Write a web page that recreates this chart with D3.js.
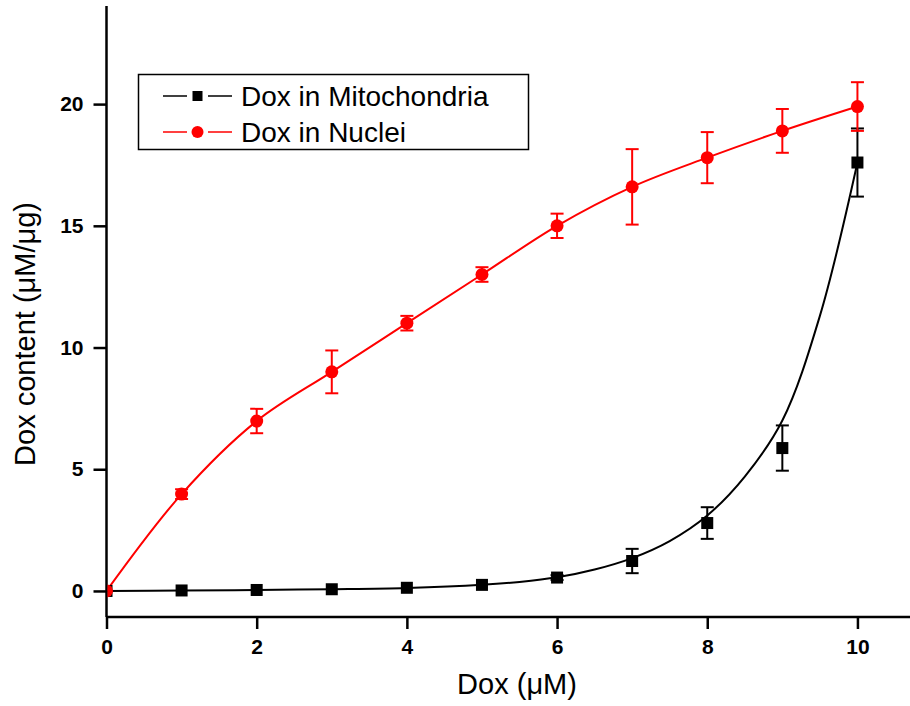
<!DOCTYPE html>
<html>
<head>
<meta charset="utf-8">
<script src="https://cdn.jsdelivr.net/npm/d3@7"></script>
<style>
  body { margin: 0; background: #fff; }
  svg { display: block; }
  text { font-family: "Liberation Sans", Arial, sans-serif; }
</style>
</head>
<body>
<svg id="chart" width="910" height="706"></svg>
<script>
// ---- data ----
const doses = [0, 1, 2, 3, 4, 5, 6, 7, 8, 9, 10];
const mitoValues = [0, 0.02, 0.04, 0.07, 0.13, 0.25, 0.55, 1.23, 2.79, 5.87, 17.6];
const mitoErrors = [0, 0, 0, 0, 0, 0, 0.1, 0.5, 0.65, 0.93, 1.4];
const nucleiValues = [0, 3.98, 6.98, 9.0, 11.0, 13.0, 15.0, 16.6, 17.8, 18.9, 19.9];
const nucleiErrors = [0, 0.2, 0.5, 0.88, 0.3, 0.3, 0.5, 1.55, 1.05, 0.9, 1.0];
// fitted curve for mitochondria
const mitoFitX = [0, 1, 2, 3, 4, 5, 5.5, 6, 6.5, 7, 7.5, 8, 8.5, 9, 9.5, 10];
const mitoFitY = [0, 0.02, 0.04, 0.07, 0.12, 0.25, 0.37, 0.56, 0.88, 1.35, 2.05, 3.1, 4.7, 7.0, 11.3, 17.6];
const xTicks = [0, 2, 4, 6, 8, 10];
const yTicks = [0, 5, 10, 15, 20];
const seriesNames = ["Dox in Mitochondria", "Dox in Nuclei"];
const xTitle = "Dox (\u03BCM)";
const yTitle = "Dox content (\u03BCM/\u03BCg)";

// ---- layout ----
const svg = d3.select("#chart");
const x = d3.scaleLinear().domain([0, 10.7]).range([106.5, 910]);
const y = d3.scaleLinear().domain([-1.07, 24.03]).range([617, 6]);

// axes
const xAxis = svg.append("g").attr("transform", `translate(0,${y(-1.07)})`)
  .call(d3.axisBottom(x).tickValues(xTicks).tickSize(12).tickPadding(10).tickFormat(d3.format("d")));
const yAxis = svg.append("g").attr("transform", `translate(${x(0)},0)`)
  .call(d3.axisLeft(y).tickValues(yTicks).tickSize(13).tickPadding(10).tickFormat(d3.format("d")));
[xAxis, yAxis].forEach(g => {
  g.select(".domain").attr("stroke", "#000").attr("stroke-width", 2.5);
  g.selectAll(".tick line").attr("stroke", "#000").attr("stroke-width", 2.5);
  g.selectAll(".tick text").attr("fill", "#000")
    .style("font-family", "'Liberation Sans', Arial, sans-serif")
    .style("font-size", "21px").style("font-weight", "bold");
});
xAxis.selectAll(".domain").attr("d", `M${x(0)},0H910`);
yAxis.selectAll(".domain").attr("d", `M0,${y(24.03)}V${y(-1.07)}`);

// titles
svg.append("text").attr("x", 517).attr("y", 694).attr("text-anchor", "middle")
  .style("font-size", "29px").text(xTitle);
svg.append("text").attr("transform", "translate(35,334) rotate(-90)").attr("text-anchor", "middle")
  .style("font-size", "29px").text(yTitle);

// clip for markers
svg.append("clipPath").attr("id", "plotclip").append("rect")
  .attr("x", x(0) + 1).attr("y", 0).attr("width", 910).attr("height", y(-1.07) - 1);

const plot = svg.append("g").attr("clip-path", "url(#plotclip)");

// curves
const mitoFit = mitoFitX.map((v, i) => [v, mitoFitY[i]]);
plot.append("path").datum(mitoFit)
  .attr("fill", "none").attr("stroke", "#000").attr("stroke-width", 2)
  .attr("d", d3.line().x(d => x(d[0])).y(d => y(d[1])).curve(d3.curveCatmullRom.alpha(0.5)));

const nuc = doses.map((v, i) => [v, nucleiValues[i]]);
plot.append("path").datum(nuc)
  .attr("fill", "none").attr("stroke", "#ff0000").attr("stroke-width", 2)
  .attr("d", d3.line().x(d => x(d[0])).y(d => y(d[1])).curve(d3.curveCatmullRom.alpha(0.5)));

// error bars
function errorBars(vals, errs, color) {
  const g = plot.append("g").attr("stroke", color).attr("stroke-width", 2);
  doses.forEach((d, i) => {
    if (errs[i] <= 0) return;
    const cx = x(d), y1 = y(vals[i] + errs[i]), y2 = y(vals[i] - errs[i]);
    g.append("line").attr("x1", cx).attr("x2", cx).attr("y1", y1).attr("y2", y2);
    g.append("line").attr("x1", cx - 6.5).attr("x2", cx + 6.5).attr("y1", y1).attr("y2", y1);
    g.append("line").attr("x1", cx - 6.5).attr("x2", cx + 6.5).attr("y1", y2).attr("y2", y2);
  });
}
errorBars(mitoValues, mitoErrors, "#000");
errorBars(nucleiValues, nucleiErrors, "#ff0000");

// markers
plot.append("g").selectAll("rect").data(doses).join("rect")
  .attr("x", d => x(d) - 6).attr("y", (d, i) => y(mitoValues[i]) - 6)
  .attr("width", 12).attr("height", 12).attr("fill", "#000");
plot.append("g").selectAll("circle").data(doses).join("circle")
  .attr("cx", d => x(d)).attr("cy", (d, i) => y(nucleiValues[i]))
  .attr("r", 6.5).attr("fill", "#ff0000");

// legend
const lg = svg.append("g");
lg.append("rect").attr("x", 138.5).attr("y", 74.5).attr("width", 390).attr("height", 75)
  .attr("fill", "#fff").attr("stroke", "#000").attr("stroke-width", 1.5);
const rows = [
  { name: seriesNames[0], color: "#000", cy: 96, shape: "square" },
  { name: seriesNames[1], color: "#ff0000", cy: 132, shape: "circle" }
];
rows.forEach(r => {
  lg.append("line").attr("x1", 163).attr("x2", 187).attr("y1", r.cy).attr("y2", r.cy)
    .attr("stroke", r.color).attr("stroke-width", 1.5);
  lg.append("line").attr("x1", 208).attr("x2", 232).attr("y1", r.cy).attr("y2", r.cy)
    .attr("stroke", r.color).attr("stroke-width", 1.5);
  if (r.shape === "square") {
    lg.append("rect").attr("x", 192.5).attr("y", r.cy - 5).attr("width", 10).attr("height", 10).attr("fill", r.color);
  } else {
    lg.append("circle").attr("cx", 197.5).attr("cy", r.cy).attr("r", 6).attr("fill", r.color);
  }
  lg.append("text").attr("x", 241).attr("y", r.cy + 10).style("font-size", "28px").text(r.name);
});
</script>
</body>
</html>
